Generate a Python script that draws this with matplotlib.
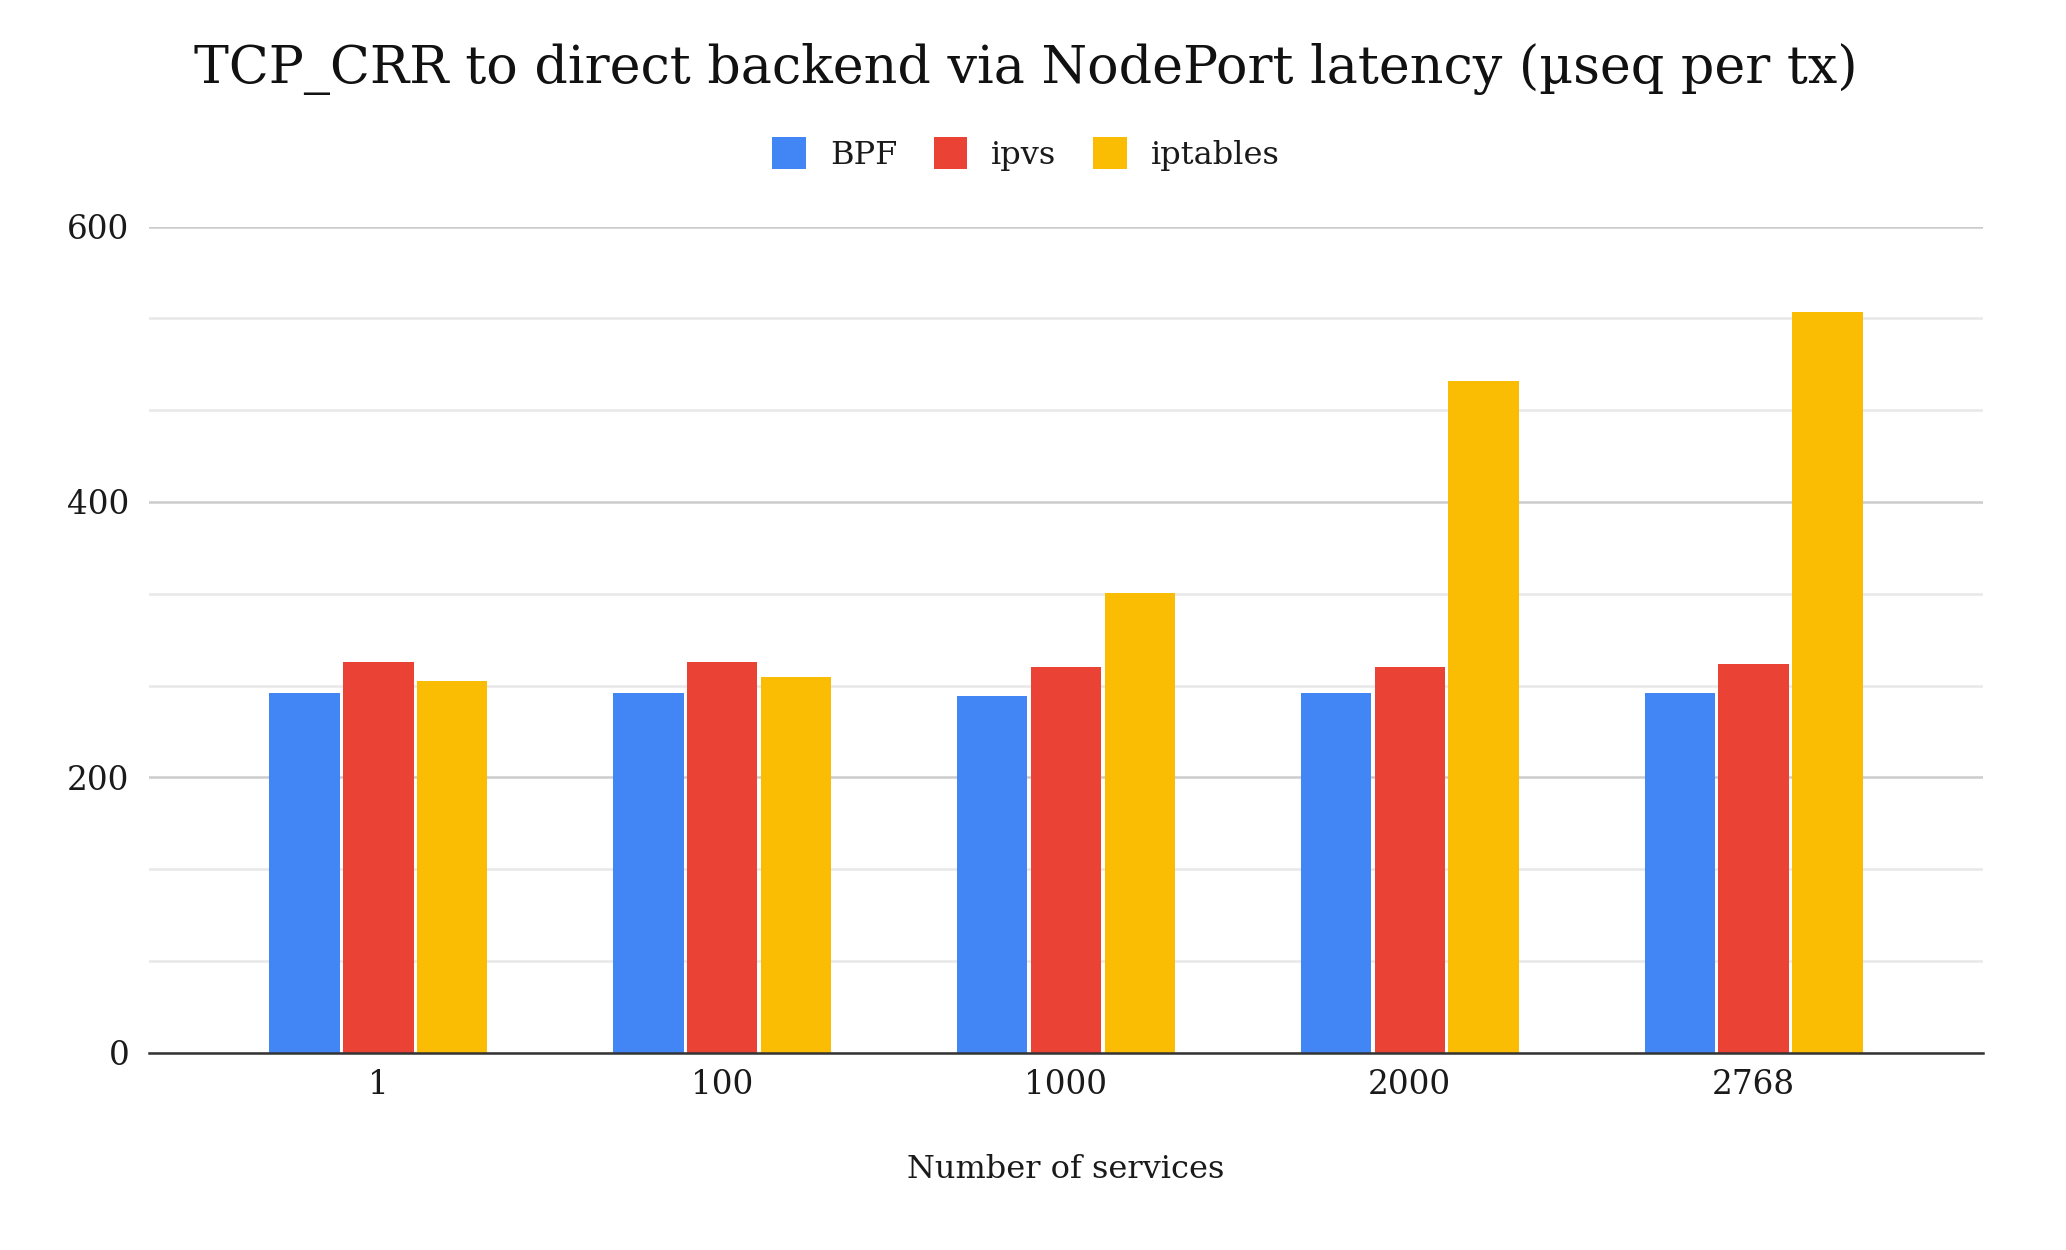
import matplotlib
matplotlib.use("Agg")
import matplotlib.pyplot as plt
import numpy as np
from matplotlib.ticker import MultipleLocator

categories = ["1", "100", "1000", "2000", "2768"]
bpf = [261, 261, 259, 261, 261]
ipvs = [284, 284, 280, 280, 282]
iptables = [270, 273, 334, 488, 538]
series_names = ["BPF", "ipvs", "iptables"]
colors = ["#4285F4", "#EA4335", "#FBBC04"]

plt.rcParams['font.family'] = ['DejaVu Serif']

fig = plt.figure(figsize=(20.66, 12.5), dpi=100)
ax = fig.add_axes([0.0721, 0.1578, 0.8877, 0.6609])

x = np.arange(len(categories))
off = 0.2148
w = 0.205
for i, (vals, name, c) in enumerate(zip([bpf, ipvs, iptables], series_names, colors)):
    ax.bar(x + (i - 1) * off, vals, width=w, color=c, label=name, zorder=3)

ax.set_xlim(-0.667, 4.667)
ax.set_ylim(0, 600)
ax.yaxis.set_major_locator(MultipleLocator(200))
ax.yaxis.set_minor_locator(MultipleLocator(200/3))
ax.grid(which='major', axis='y', color='#cccccc', linewidth=1.8, zorder=0)
ax.grid(which='minor', axis='y', color='#e8e8e8', linewidth=1.8, zorder=0)
for s in ['top', 'right', 'left']:
    ax.spines[s].set_visible(False)
ax.spines['bottom'].set_color('#333333')
ax.spines['bottom'].set_linewidth(1.8)
ax.spines['bottom'].set_zorder(4)
ax.tick_params(axis='both', which='both', length=0, labelsize=23.5, colors='#1a1a1a')
ax.tick_params(axis='y', pad=14)
ax.tick_params(axis='x', pad=12)
ax.set_xticks(x)
ax.set_xticklabels(categories)
ax.set_xlabel("Number of services", fontsize=23, color='#1a1a1a', labelpad=38)

fig.text(0.4966, 0.945, "TCP_CRR to direct backend via NodePort latency (µseq per tx)",
         ha='center', va='center', fontsize=37.6, color='#111111')

leg = fig.legend(loc='center', bbox_to_anchor=(0.4966, 0.877), ncol=3, frameon=False,
                 fontsize=23, handlelength=1.05, handleheight=1.15, columnspacing=1.15,
                 handletextpad=0.75)
for t in leg.get_texts():
    t.set_color('#1a1a1a')

fig.savefig("out.png", dpi=100, facecolor='white')
